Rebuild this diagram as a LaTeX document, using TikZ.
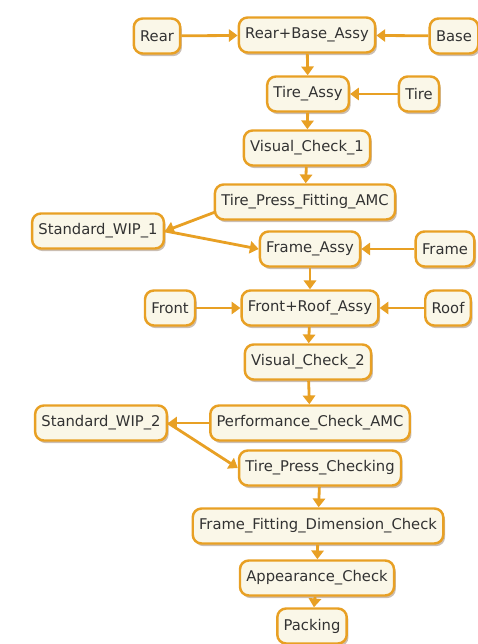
\documentclass[tikz,border=0pt]{standalone}
\usepackage{fontspec}
\setmainfont{DejaVu Sans}
\usetikzlibrary{arrows.meta}
\usetikzlibrary{shadows}
\definecolor{stepline}{RGB}{232,160,36}
\definecolor{stepfill}{RGB}{250,247,232}
\definecolor{steptext}{RGB}{50,50,50}

\begin{document}
\begin{tikzpicture}[x=0.02cm,y=-0.02cm,
    task/.style={shape=rectangle,rounded corners=5pt,draw=stepline,line width=1.4pt,
      fill=stepfill,text=steptext,font=\fontsize{8.4}{9}\selectfont,minimum height=0.7cm,inner xsep=3.6pt,
      drop shadow={shadow xshift=1pt,shadow yshift=-1.5pt,fill=black!45!brown,opacity=0.35}},
    flow/.style={draw=stepline,line width=1.6pt,-{Triangle[length=5pt,width=7pt]}}]
    \useasboundingbox (0,0) rectangle (477,644);
    \node[task] (Rear) at (157,36) {Rear};
    \node[task] (RB) at (307,35) {Rear+Base\_Assy};
    \node[task] (Base) at (454,36) {Base};
    \node[task] (TA) at (308,94) {Tire\_Assy};
    \node[task] (Tire) at (419,94) {Tire};
    \node[task] (VC1) at (307,148) {Visual\_Check\_1};
    \node[task] (TPF) at (305,202) {Tire\_Press\_Fitting\_AMC};
    \node[task] (WIP1) at (98,231) {Standard\_WIP\_1};
    \node[task] (FA) at (310,249) {Frame\_Assy};
    \node[task] (Frame) at (445,249) {Frame};
    \node[task] (Front) at (170,308) {Front};
    \node[task] (FR) at (310,308) {Front+Roof\_Assy};
    \node[task] (Roof) at (448,308) {Roof};
    \node[task] (VC2) at (308,362) {Visual\_Check\_2};
    \node[task] (PC) at (310,423) {Performance\_Check\_AMC};
    \node[task] (WIP2) at (101,423) {Standard\_WIP\_2};
    \node[task] (TPC) at (320,468) {Tire\_Press\_Checking};
    \node[task] (FFD) at (318,526) {Frame\_Fitting\_Dimension\_Check};
    \node[task] (AC) at (317,578) {Appearance\_Check};
    \node[task] (Pack) at (312,626) {Packing};
    \draw [flow] (Rear) -- (RB);
    \draw [flow] (Base) -- (RB);
    \draw [flow] (RB) -- (TA);
    \draw [flow] (Tire) -- (TA);
    \draw [flow] (TA) -- (VC1);
    \draw [flow] (VC1) -- (TPF);
    \draw [flow] ([xshift=1pt,yshift=5pt]TPF.south west) -- (WIP1.east);
    \draw [flow] (WIP1.east) -- (FA.west);
    \draw [flow] (Frame) -- (FA);
    \draw [flow] (FA) -- (FR);
    \draw [flow] (Front) -- (FR);
    \draw [flow] (Roof) -- (FR);
    \draw [flow] (FR) -- (VC2);
    \draw [flow] (VC2) -- (PC);
    \draw [flow] (PC) -- (WIP2);
    \draw [flow] (WIP2.east) -- (TPC.west);
    \draw [flow] (TPC) -- (FFD);
    \draw [flow] (FFD) -- (AC);
    \draw [flow] (AC) -- (Pack);
\end{tikzpicture}
\end{document}
